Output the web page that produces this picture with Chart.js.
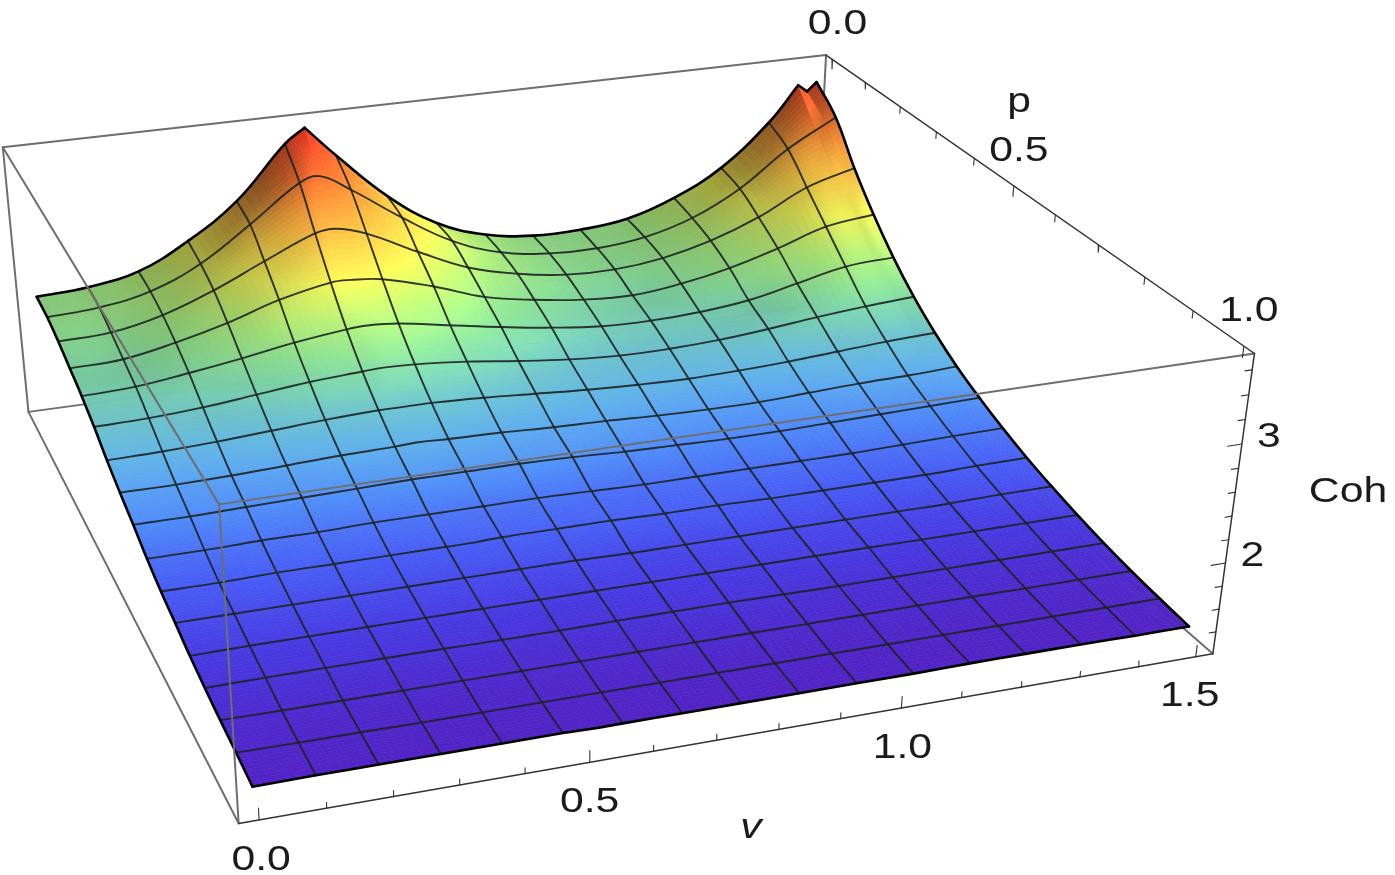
<!DOCTYPE html>
<html><head><meta charset="utf-8"><style>html,body{margin:0;background:#fff}canvas{display:block}</style>
<script src="https://cdn.jsdelivr.net/npm/chart.js@4/dist/chart.umd.min.js"></script></head>
<body><canvas id="c" width="1395" height="875"></canvas>
<script>
// mesh positions along v in sixteenths of the 0..1.5 range; 5.4, 15.6, 15.8 are extra samples at the sharp crests
const vIndex=[0,1,2,3,4,5,5.4,6,7,8,9,10,11,12,13,14,15,15.6,15.8,16];
const pIndex=[0,1,2,3,4,5,6,7,8,9,10,11,12,13,14,15,16];
const cohP00=[2.37,2.40,2.49,2.72,3.04,3.52,3.65,3.36,2.92,2.60,2.43,2.36,2.36,2.41,2.56,2.80,3.19,3.52,3.45,3.53];
const cohP01=[2.35,2.38,2.47,2.67,2.98,3.31,3.35,3.19,2.87,2.59,2.42,2.35,2.34,2.39,2.52,2.75,3.08,3.23,3.28,3.33];
const cohP02=[2.30,2.32,2.42,2.59,2.80,3.00,3.02,2.94,2.71,2.50,2.38,2.31,2.30,2.35,2.46,2.63,2.86,2.94,2.96,2.99];
const cohP03=[2.23,2.25,2.34,2.46,2.61,2.71,2.71,2.68,2.55,2.39,2.30,2.24,2.22,2.27,2.36,2.49,2.64,2.68,2.70,2.70];
const cohP04=[2.16,2.18,2.24,2.31,2.39,2.45,2.46,2.44,2.36,2.28,2.21,2.16,2.15,2.17,2.22,2.32,2.42,2.44,2.45,2.45];
const cohP05=[2.07,2.08,2.11,2.16,2.21,2.24,2.25,2.24,2.20,2.14,2.09,2.06,2.06,2.08,2.12,2.17,2.21,2.22,2.23,2.24];
const cohP06=[1.96,1.97,1.99,2.02,2.05,2.07,2.07,2.07,2.05,2.02,1.99,1.97,1.96,1.97,1.99,2.02,2.05,2.05,2.06,2.07];
const cohP07=[1.87,1.87,1.88,1.90,1.92,1.93,1.94,1.93,1.92,1.90,1.89,1.87,1.86,1.86,1.88,1.90,1.91,1.92,1.92,1.93];
const cohP08=[1.79,1.79,1.80,1.81,1.82,1.83,1.83,1.83,1.83,1.82,1.80,1.79,1.78,1.78,1.79,1.80,1.81,1.81,1.82,1.82];
const cohP09=[1.70,1.70,1.71,1.71,1.72,1.72,1.72,1.72,1.72,1.71,1.70,1.70,1.70,1.70,1.70,1.71,1.72,1.72,1.72,1.725];
const cohP10=[1.63,1.63,1.64,1.64,1.64,1.64,1.64,1.65,1.65,1.65,1.64,1.64,1.63,1.63,1.63,1.63,1.64,1.64,1.64,1.645];
const cohP11=[1.58,1.58,1.58,1.58,1.58,1.58,1.58,1.58,1.58,1.57,1.57,1.57,1.57,1.57,1.57,1.57,1.58,1.58,1.58,1.58];
const cohP12=[1.525,1.53,1.53,1.53,1.53,1.53,1.53,1.53,1.53,1.53,1.53,1.53,1.53,1.53,1.525,1.525,1.525,1.525,1.525,1.525];
const cohP13=[1.485,1.49,1.49,1.49,1.49,1.485,1.485,1.485,1.49,1.49,1.49,1.485,1.48,1.48,1.48,1.48,1.48,1.48,1.48,1.48];
const cohP14=[1.455,1.45,1.45,1.45,1.45,1.45,1.45,1.45,1.45,1.45,1.45,1.45,1.45,1.45,1.45,1.445,1.445,1.445,1.445,1.445];
const cohP15=[1.43,1.425,1.425,1.42,1.42,1.42,1.42,1.42,1.42,1.42,1.42,1.42,1.42,1.42,1.42,1.42,1.42,1.42,1.42,1.42];
const cohP16=[1.40,1.405,1.405,1.405,1.405,1.405,1.40,1.40,1.40,1.40,1.40,1.40,1.40,1.405,1.405,1.405,1.40,1.40,1.40,1.40];
const cohRows=[cohP00,cohP01,cohP02,cohP03,cohP04,cohP05,cohP06,cohP07,cohP08,cohP09,cohP10,cohP11,cohP12,cohP13,cohP14,cohP15,cohP16];
const vTickLabels=['0.0','0.5','1.0','1.5'];
const pTickLabels=['0.0','0.5','1.0'];
const cohTickLabels=['2','3'];
const vMinorTicks=[0.1,0.2,0.3,0.4,0.6,0.7,0.8,0.9,1.1,1.2,1.3,1.4];
const pMinorTicks=[0.1,0.2,0.3,0.4,0.6,0.7,0.8,0.9];
const cohMinorTicks=[1.4,1.6,1.8,2.2,2.4,2.6,2.8,3.2,3.4,3.6];

// view of the box
const VIEW=[[843.800553,156.462208,-25.805684,28.450497],[-83.631117,226.192051,-271.811373,411.869245],[0.073333,-0.22517,-0.048676,1]];
const Z0=1.206,Z1=3.73;
const V=i=>i/16*1.5, Pp=j=>j/16;
function proj(v,p,z){const a=(v+.03)/1.56,b=(p+.02)/1.04,c=(z-Z0)/(Z1-Z0);
  const w=VIEW[2][0]*a+VIEW[2][1]*b+VIEW[2][2]*c+1;
  return {x:(VIEW[0][0]*a+VIEW[0][1]*b+VIEW[0][2]*c+VIEW[0][3])/w,y:(VIEW[1][0]*a+VIEW[1][1]*b+VIEW[1][2]*c+VIEW[1][3])/w};}
const V0=-.03,V1=1.53,P0=-.02,P1=1.02;
const GAP={x:NaN,y:NaN};
const seg=(...ends)=>ends.flatMap(([a,b])=>[proj(...a),proj(...b),GAP]);

const backEdges=seg([[V0,P0,Z1],[V1,P0,Z1]],[[V0,P0,Z1],[V0,P0,Z0]],[[V0,P0,Z0],[V1,P0,Z0]],[[V1,P0,Z1],[V1,P0,Z0]],[[V1,P0,Z0],[V1,P1,Z0]]);
const frontEdges=seg([[V0,P0,Z1],[V0,P1,Z1]],[[V0,P1,Z1],[V1,P1,Z1]],[[V0,P1,Z1],[V0,P1,Z0]],[[V0,P0,Z0],[V0,P1,Z0]]);
const axisEdges=seg([[V0,P1,Z0],[V1,P1,Z0]],[[V1,P0,Z1],[V1,P1,Z1]],[[V1,P1,Z0],[V1,P1,Z1]]);
const tk=[];
vTickLabels.map(Number).forEach(v=>tk.push([[v,P1,Z0],[v,P1,Z0+.10]]));
vMinorTicks.forEach(v=>tk.push([[v,P1,Z0],[v,P1,Z0+.05]]));
pTickLabels.map(Number).forEach(p=>tk.push([[V1,p,Z1],[V1,p,Z1-.09]]));
pMinorTicks.forEach(p=>tk.push([[V1,p,Z1],[V1,p,Z1-.06]]));
cohTickLabels.map(Number).forEach(z=>tk.push([[V1,P1,z],[V1-.024,P1,z]]));
cohMinorTicks.forEach(z=>tk.push([[V1,P1,z],[V1-.012,P1,z]]));
const tickMarks=seg(...tk);

// surface sampling for painting; crest columns keep a corner on the back row
const crestCols=[6,17,18];
const vs=vIndex.map(V), ps=pIndex.map(Pp);
function herm(x,y,q,sharp=[]){const n=x.length;
  const m=y.map((_,k)=>k==0?(y[1]-y[0])/(x[1]-x[0]):k==n-1?(y[n-1]-y[n-2])/(x[n-1]-x[n-2]):(y[k+1]-y[k-1])/(x[k+1]-x[k-1]));
  const sl=k=>(y[k+1]-y[k])/(x[k+1]-x[k]);
  return q.map(t=>{let k=0;while(k<n-2&&t>x[k+1])k++;const h=x[k+1]-x[k],s=(t-x[k])/h,s2=s*s,s3=s2*s;
    const m0=sharp.includes(k)?sl(k):m[k], m1=sharp.includes(k+1)?sl(k):m[k+1];
    return (2*s3-3*s2+1)*y[k]+(s3-2*s2+s)*h*m0+(-2*s3+3*s2)*y[k+1]+(s3-s2)*h*m1;});}
const fineV=[];vs.forEach((v,k)=>{if(k<vs.length-1)for(let s=0;s<7;s++)fineV.push(v+(vs[k+1]-v)*s/7);});fineV.push(vs[vs.length-1]);
const fineP=[];ps.forEach((p,k)=>{if(k<ps.length-1)for(let s=0;s<10;s++)fineP.push(p+(ps[k+1]-p)*s/10);});fineP.push(ps[ps.length-1]);
const rowsFine=cohRows.map((r,j)=>herm(vs,r,fineV,j===0?crestCols:[]));
const fine=[];fineP.forEach(()=>fine.push([]));
fineV.forEach((v,i)=>{const col=herm(ps,rowsFine.map(r=>r[i]),fineP);col.forEach((z,j)=>fine[j][i]=z);});

const RAMP=[[1.40,82,34,196],[1.46,76,44,208],[1.52,72,58,225],[1.63,72,92,245],[1.79,80,140,250],[1.96,100,185,235],[2.07,115,205,215],[2.16,130,225,195],[2.30,150,240,160],[2.45,180,248,130],[2.70,245,248,90],[2.95,255,200,70],[3.30,255,125,50],[3.65,255,55,40]];
function ramp(z){if(z<=RAMP[0][0])return RAMP[0].slice(1);for(let k=0;k<RAMP.length-1;k++){const A=RAMP[k],B=RAMP[k+1];if(z<=B[0]){const t=(z-A[0])/(B[0]-A[0]);return [1,2,3].map(n=>A[n]+(B[n]-A[n])*t);}}return RAMP[RAMP.length-1].slice(1);}
function shade(z,zv,zp){let f=.82+.05*(-zp)-.07*zv;f=Math.max(.45,Math.min(1.03,f));let t=(z-1.9)/.3;t=Math.max(0,Math.min(1,t));return 1+(f-1)*t;}

const surfacePlugin={id:'surface',afterDatasetDraw(chart,args){
  if(chart.data.datasets[args.index].label!=='surface')return;
  const {ctx,scales:{x:sx,y:sy}}=chart;
  const px=(i,j)=>{const q=proj(fineV[i],fineP[j],fine[j][i]);return [sx.getPixelForValue(q.x),sy.getPixelForValue(q.y)];};
  ctx.save();ctx.lineWidth=.7;ctx.lineJoin='round';
  for(let j=0;j<fineP.length-1;j++)for(let i=0;i<fineV.length-1;i++){
    const z=(fine[j][i]+fine[j][i+1]+fine[j+1][i]+fine[j+1][i+1])/4;
    const zv=((fine[j][i+1]-fine[j][i])+(fine[j+1][i+1]-fine[j+1][i]))/2/(fineV[i+1]-fineV[i]);
    const zp=((fine[j+1][i]-fine[j][i])+(fine[j+1][i+1]-fine[j][i+1]))/2/(fineP[j+1]-fineP[j]);
    const f=shade(z,zv,zp),c=ramp(z).map(n=>Math.min(255,Math.round(n*f)));
    const col=`rgb(${c})`;ctx.fillStyle=col;ctx.strokeStyle=col;
    const A=px(i,j),B=px(i+1,j),C=px(i+1,j+1),D=px(i,j+1);
    ctx.beginPath();ctx.moveTo(...A);ctx.lineTo(...B);ctx.lineTo(...C);ctx.lineTo(...D);ctx.closePath();ctx.fill();ctx.stroke();
  }
  ctx.restore();
}};
const labelPlugin={id:'labels',afterDraw(chart){
  const {ctx,scales:{x:sx,y:sy}}=chart;
  const put=(t,x,y,italic)=>{ctx.save();ctx.translate(sx.getPixelForValue(x),sy.getPixelForValue(y));ctx.scale(1.22,1);
    ctx.font=(italic?'italic ':'')+"35px 'Liberation Sans'";ctx.fillStyle='#1a1a1a';ctx.textAlign='center';ctx.textBaseline='middle';ctx.fillText(t,0,0);ctx.restore();};
  const vNudge=[2,0,1,-6];
  vTickLabels.forEach((t,k)=>{const q=proj(+t,P1,Z0);put(t,q.x+vNudge[k],q.y+40);});
  pTickLabels.forEach(t=>{const q=proj(V1,+t,Z1);put(t,q.x+5,q.y-35);});
  cohTickLabels.forEach(t=>{const q=proj(V1,P1,+t);put(t,q.x+27,q.y-7);});
  put('v',751,828,true);put('p',1019,102);put('Coh',1348,492);
}};

const line=(label,data,color,width,order,tension=0)=>({label,data,showLine:true,borderColor:color,borderWidth:width,pointRadius:0,tension,order,spanGaps:false,borderCapStyle:'round',borderJoinStyle:'round'});
const datasets=[line('box back',backEdges,'#6e6e6e',2,6)];
datasets.push({label:'surface',data:cohRows.flatMap((r,j)=>r.map((z,i)=>proj(vs[i],ps[j],z))),showLine:false,pointRadius:0,order:5});
const MESH='rgba(30,34,34,.9)';
// back row: broken at the crests so they stay pointed
const backPts=cohP00.map((z,k)=>proj(vs[k],ps[0],z));
[[0,6],[6,17],[17,18],[18,19]].forEach(([a,b],n)=>datasets.push(line('p row 0.'+n,backPts.slice(a,b+1),'#000',2.6,3,.4)));
cohRows.forEach((r,j)=>{if(j===0)return;const pts=r.map((z,k)=>(vIndex[k]===15.6||vIndex[k]===15.8)?null:proj(vs[k],ps[j],z)).filter(Boolean);
  const edge=j===16;datasets.push(line('p row '+j,pts,edge?'#000':MESH,edge?2.6:1.9,edge?3:4,.4));});
vIndex.forEach((vi,k)=>{if(vi%1!==0)return;const pts=cohRows.map((r,j)=>proj(vs[k],ps[j],r[k]));
  const edge=vi===0||vi===16;datasets.push(line('v col '+vi,pts,edge?'#000':MESH,edge?2.6:1.9,edge?3:4,.4));});
datasets.push(line('box front',frontEdges,'#6e6e6e',2,2));
datasets.push(line('axes',axisEdges,'#333',1.5,1));
datasets.push(line('ticks',tickMarks,'#333',1.1,1));

Chart.defaults.animation=false;
new Chart(document.getElementById('c'),{type:'scatter',data:{datasets},plugins:[surfacePlugin,labelPlugin],
 options:{responsive:false,animation:false,layout:{padding:0},plugins:{legend:{display:false},tooltip:{enabled:false}},
  scales:{x:{type:'linear',min:0,max:1395,display:false},y:{type:'linear',min:0,max:875,reverse:true,display:false}}}});
</script></body></html>
